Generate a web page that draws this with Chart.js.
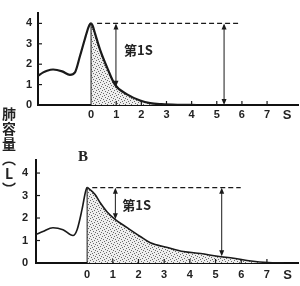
<!DOCTYPE html>
<html><head><meta charset="utf-8">
<script src="https://cdn.jsdelivr.net/npm/chart.js@4/dist/chart.umd.min.js"></script>
<style>
html,body{margin:0;padding:0;background:#fff;width:300px;height:286px;overflow:hidden}
#wa{position:absolute;left:0;top:0;width:300px;height:125px}
#wb{position:absolute;left:0;top:140px;width:300px;height:146px}
#yt{position:absolute;left:1px;top:107px;writing-mode:vertical-rl;font-family:"Noto Sans CJK SC";font-weight:bold;font-size:14px;line-height:15px;color:#222;letter-spacing:1px}
</style></head><body>
<div id="wa"><canvas id="ca"></canvas></div>
<div id="wb"><canvas id="cb"></canvas></div>
<div id="yt">肺容量（<span style="text-orientation:upright">L</span>）</div>
<script>
// ---- data ----
const timeA = [-2.11,-1.9,-1.75,-1.51,-1.15,-0.84,-0.64,-0.44,-0.24,-0.1,-0.03,0,0.06,0.16,0.36,0.64,0.95,1.43,1.95,2.35,2.8,3.5,4.2];
const volA  = [1.43,1.6,1.68,1.74,1.65,1.48,1.6,2.4,3.26,3.82,3.98,4.0,3.9,3.5,2.7,1.83,1.0,0.52,0.22,0.09,0.04,0.01,0];
const timeB = [-1.99,-1.72,-1.33,-0.94,-0.55,-0.39,-0.2,-0.06,0,0.08,0.31,0.51,0.78,1.1,1.56,2.07,2.46,3.13,3.75,4.42,5.08,5.71,6.38,7.04,7.66];
const volB  = [1.27,1.4,1.57,1.48,1.22,1.48,2.37,3.18,3.35,3.3,3.05,2.68,2.27,1.93,1.57,1.18,0.9,0.69,0.51,0.42,0.3,0.21,0.09,0.02,0];
const xTickValues = [0,1,2,3,4,5,6,7];
const yTickValues = [0,1,2,3,4];
const unitLabel = 'S';
const unitPos = 7.8;
const peakA = 4.0, peakB = 3.35;
const fevLabel = '第1S';
const panelLabelB = 'B';

function stipple(){
  const c=document.createElement('canvas');c.width=6;c.height=6;
  const g=c.getContext('2d');
  g.fillStyle='#eeeeee';g.fillRect(0,0,6,6);
  g.fillStyle='#6a6a6a';
  [[0,0],[3,1],[1,3],[4,4],[5,2],[2,5]].forEach(p=>g.fillRect(p[0],p[1],1,1));
  return g.createPattern(c,'repeat');
}
const pattern = stipple();

function arrowHead(ctx,x,y,dir){
  ctx.beginPath();ctx.moveTo(x,y);ctx.lineTo(x-2.5,y-dir*6);ctx.lineTo(x+2.5,y-dir*6);ctx.closePath();ctx.fill();
}

function makeChart(id,times,vols,cfg){
  const ann = {
    id:'ann',
    afterDatasetsDraw(chart){
      const {ctx,scales:{x,y},chartArea} = chart;
      ctx.save();
      ctx.strokeStyle='#1a1a1a';ctx.fillStyle='#1a1a1a';
      ctx.lineWidth=1.2;
      xTickValues.forEach(v=>{const px=x.getPixelForValue(v);if(v===0)return;ctx.beginPath();ctx.moveTo(px,chartArea.bottom);ctx.lineTo(px,chartArea.bottom-4);ctx.stroke();});
      yTickValues.forEach(v=>{if(v===0)return;const py=y.getPixelForValue(v);ctx.beginPath();ctx.moveTo(chartArea.left,py);ctx.lineTo(chartArea.left+4,py);ctx.stroke();});
      ctx.lineWidth=1;
      ctx.beginPath();ctx.moveTo(x.getPixelForValue(0),y.getPixelForValue(cfg.peak));ctx.lineTo(x.getPixelForValue(0),y.getPixelForValue(0));ctx.stroke();
      ctx.lineWidth=1.2;ctx.setLineDash([5,3]);
      const py=y.getPixelForValue(cfg.peak);
      ctx.beginPath();ctx.moveTo(x.getPixelForValue(cfg.dash[0]),py);ctx.lineTo(x.getPixelForValue(cfg.dash[1]),py);ctx.stroke();
      ctx.setLineDash([]);
      cfg.arrows.forEach(a=>{
        const ax=x.getPixelForValue(a[0]);const y1=py;const y2=y.getPixelForValue(a[1]);
        ctx.lineWidth=1;ctx.beginPath();ctx.moveTo(ax,y1+2);ctx.lineTo(ax,y2-2);ctx.stroke();
        arrowHead(ctx,ax,y1,-1);arrowHead(ctx,ax,y2,1);
      });
      ctx.font='bold 13px "Noto Sans CJK SC"';ctx.textBaseline='middle';ctx.textAlign='left';
      ctx.fillStyle='#222';
      ctx.fillText(fevLabel,x.getPixelForValue(cfg.label[0]),y.getPixelForValue(cfg.label[1]));
      if(cfg.panel){
        ctx.font='bold 15px "Liberation Serif"';ctx.textAlign='center';
        ctx.fillText(cfg.panel[0],x.getPixelForValue(cfg.panel[1]),y.getPixelForValue(cfg.panel[2]));
      }
      ctx.restore();
    }
  };
  const pts = times.map((t,i)=>({x:t,y:vols[i]}));
  return new Chart(document.getElementById(id),{
    type:'line',
    data:{datasets:[{
      data:pts,borderColor:'#1a1a1a',borderWidth:cfg.lw,pointRadius:0,
      cubicInterpolationMode:'monotone',fill:'origin',backgroundColor:'transparent',
      segment:{backgroundColor:c=>c.p0.parsed.x>=0?pattern:'rgba(0,0,0,0)'}
    }]},
    options:{
      responsive:true,maintainAspectRatio:false,animation:false,
      layout:{padding:{top:cfg.padTop,right:2,left:0,bottom:0}},
      plugins:{legend:{display:false},tooltip:{enabled:false}},
      scales:{
        x:{type:'linear',min:cfg.xMin,max:cfg.xMax,
          border:{color:'#111',width:2},grid:{display:false,drawTicks:false},
          ticks:{padding:cfg.xPad,color:'#222',font:c=>({family:'Liberation Sans',size:c.tick&&c.tick.value===unitPos?13:11,weight:'bold'}),autoSkip:false,maxRotation:0,
            callback:v=>v===unitPos?unitLabel:String(v)},
          afterBuildTicks:s=>{s.ticks=[...xTickValues,unitPos].map(v=>({value:v}));},
          afterFit:s=>{s.height=cfg.xH;}
        },
        y:{min:0,max:cfg.yMax,
          border:{color:'#111',width:2},grid:{display:false,drawTicks:false},
          ticks:{padding:cfg.yPad,color:'#222',font:{family:'Liberation Sans',size:11,weight:'bold'}},
          afterBuildTicks:s=>{s.ticks=yTickValues.map(v=>({value:v}));},
          afterFit:s=>{s.width=cfg.yW;}
        }
      }
    },
    plugins:[ann]
  });
}

makeChart('ca',timeA,volA,{peak:peakA,dash:[0.24,5.85],arrows:[[0.99,0.9],[5.29,0]],label:[1.31,2.7],
  lw:2.2,padTop:2,xMin:-2.11,xMax:8.23,xPad:3,xH:20,yMax:4.53,yPad:6,yW:38});
makeChart('cb',timeB,volB,{peak:peakB,dash:[0.2,5.98],arrows:[[1.1,1.95],[5.24,0.3]],label:[1.37,2.58],panel:[panelLabelB,-0.16,4.71],
  lw:1.6,padTop:20,xMin:-1.99,xMax:8.21,xPad:5,xH:23,yMax:4.58,yPad:8,yW:36});
</script>
</body></html>
